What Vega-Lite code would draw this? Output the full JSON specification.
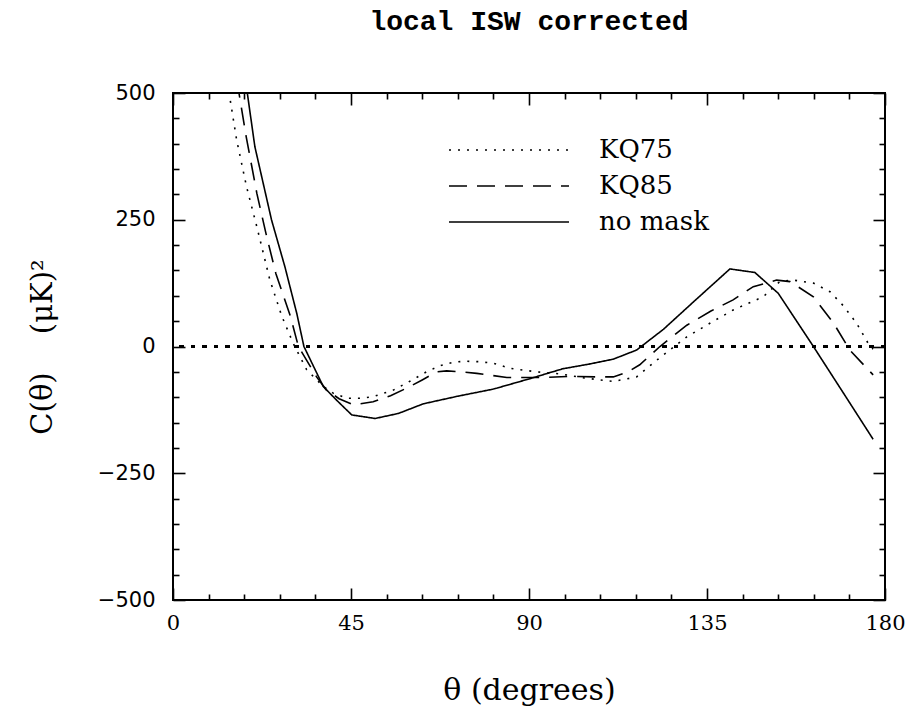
{
  "$schema": "https://vega.github.io/schema/vega-lite/v6.json",
  "autosize": "none",
  "width": 712,
  "height": 507,
  "padding": {"left": 173, "top": 93, "right": 24, "bottom": 108},
  "background": "white",
  "title": {
    "text": "local ISW corrected",
    "font": "Liberation Mono",
    "fontSize": 28,
    "fontWeight": "bold",
    "color": "black",
    "anchor": "middle",
    "baseline": "alphabetic",
    "offset": 24
  },
  "config": {
    "view": {"stroke": "black", "strokeWidth": 2},
    "axis": {
      "domain": false,
      "grid": false,
      "tickColor": "black",
      "tickWidth": 1.6,
      "labelColor": "black",
      "titleColor": "black"
    }
  },
  "data": {
    "values": [
      {"theta": 10, "c": 820, "mask": "KQ75"},
      {"theta": 12, "c": 650, "mask": "KQ75"},
      {"theta": 14.2, "c": 499, "mask": "KQ75"},
      {"theta": 16.1, "c": 407, "mask": "KQ75"},
      {"theta": 18.6, "c": 315, "mask": "KQ75"},
      {"theta": 21.2, "c": 236, "mask": "KQ75"},
      {"theta": 24.5, "c": 131, "mask": "KQ75"},
      {"theta": 27.5, "c": 60, "mask": "KQ75"},
      {"theta": 30.4, "c": 6, "mask": "KQ75"},
      {"theta": 33.8, "c": -46, "mask": "KQ75"},
      {"theta": 38, "c": -79, "mask": "KQ75"},
      {"theta": 40.5, "c": -92, "mask": "KQ75"},
      {"theta": 43.9, "c": -102, "mask": "KQ75"},
      {"theta": 47.3, "c": -102, "mask": "KQ75"},
      {"theta": 50.6, "c": -99, "mask": "KQ75"},
      {"theta": 55.7, "c": -86, "mask": "KQ75"},
      {"theta": 60, "c": -68, "mask": "KQ75"},
      {"theta": 64.1, "c": -50, "mask": "KQ75"},
      {"theta": 67.5, "c": -38, "mask": "KQ75"},
      {"theta": 70.9, "c": -31, "mask": "KQ75"},
      {"theta": 73.8, "c": -29, "mask": "KQ75"},
      {"theta": 77.5, "c": -30, "mask": "KQ75"},
      {"theta": 81, "c": -33, "mask": "KQ75"},
      {"theta": 85.2, "c": -43, "mask": "KQ75"},
      {"theta": 91.9, "c": -50, "mask": "KQ75"},
      {"theta": 97.8, "c": -54, "mask": "KQ75"},
      {"theta": 104, "c": -62, "mask": "KQ75"},
      {"theta": 111.3, "c": -69, "mask": "KQ75"},
      {"theta": 117.2, "c": -60, "mask": "KQ75"},
      {"theta": 122.3, "c": -27, "mask": "KQ75"},
      {"theta": 129.9, "c": 19, "mask": "KQ75"},
      {"theta": 136, "c": 47, "mask": "KQ75"},
      {"theta": 141.6, "c": 72, "mask": "KQ75"},
      {"theta": 149.2, "c": 98, "mask": "KQ75"},
      {"theta": 153.4, "c": 128, "mask": "KQ75"},
      {"theta": 156.8, "c": 131, "mask": "KQ75"},
      {"theta": 161.9, "c": 125, "mask": "KQ75"},
      {"theta": 166.1, "c": 108, "mask": "KQ75"},
      {"theta": 169.5, "c": 80, "mask": "KQ75"},
      {"theta": 172.8, "c": 46, "mask": "KQ75"},
      {"theta": 176.2, "c": 0, "mask": "KQ75"},
      {"theta": 177, "c": -5, "mask": "KQ75"},

      {"theta": 12, "c": 800, "mask": "KQ85"},
      {"theta": 14.5, "c": 640, "mask": "KQ85"},
      {"theta": 16.7, "c": 499, "mask": "KQ85"},
      {"theta": 18.5, "c": 414, "mask": "KQ85"},
      {"theta": 21.2, "c": 302, "mask": "KQ85"},
      {"theta": 23.5, "c": 223, "mask": "KQ85"},
      {"theta": 26, "c": 144, "mask": "KQ85"},
      {"theta": 29.7, "c": 59, "mask": "KQ85"},
      {"theta": 31.7, "c": 0, "mask": "KQ85"},
      {"theta": 36.3, "c": -60, "mask": "KQ85"},
      {"theta": 38.8, "c": -86, "mask": "KQ85"},
      {"theta": 42, "c": -103, "mask": "KQ85"},
      {"theta": 45.6, "c": -115, "mask": "KQ85"},
      {"theta": 50.6, "c": -109, "mask": "KQ85"},
      {"theta": 55, "c": -97, "mask": "KQ85"},
      {"theta": 59.1, "c": -82, "mask": "KQ85"},
      {"theta": 63, "c": -66, "mask": "KQ85"},
      {"theta": 66.7, "c": -50, "mask": "KQ85"},
      {"theta": 69.2, "c": -48, "mask": "KQ85"},
      {"theta": 73, "c": -50, "mask": "KQ85"},
      {"theta": 76.8, "c": -53, "mask": "KQ85"},
      {"theta": 84.4, "c": -61, "mask": "KQ85"},
      {"theta": 93.6, "c": -61, "mask": "KQ85"},
      {"theta": 100, "c": -59, "mask": "KQ85"},
      {"theta": 107.1, "c": -60, "mask": "KQ85"},
      {"theta": 111.3, "c": -60, "mask": "KQ85"},
      {"theta": 115, "c": -50, "mask": "KQ85"},
      {"theta": 118, "c": -36, "mask": "KQ85"},
      {"theta": 123.1, "c": 0, "mask": "KQ85"},
      {"theta": 129.9, "c": 42, "mask": "KQ85"},
      {"theta": 136, "c": 70, "mask": "KQ85"},
      {"theta": 141.6, "c": 92, "mask": "KQ85"},
      {"theta": 146.7, "c": 118, "mask": "KQ85"},
      {"theta": 152.6, "c": 131, "mask": "KQ85"},
      {"theta": 156, "c": 128, "mask": "KQ85"},
      {"theta": 161.9, "c": 98, "mask": "KQ85"},
      {"theta": 167, "c": 46, "mask": "KQ85"},
      {"theta": 171.1, "c": -7, "mask": "KQ85"},
      {"theta": 177, "c": -56, "mask": "KQ85"},

      {"theta": 12, "c": 860, "mask": "no mask"},
      {"theta": 15, "c": 680, "mask": "no mask"},
      {"theta": 18.8, "c": 499, "mask": "no mask"},
      {"theta": 20.7, "c": 394, "mask": "no mask"},
      {"theta": 24.9, "c": 250, "mask": "no mask"},
      {"theta": 28.3, "c": 157, "mask": "no mask"},
      {"theta": 31.3, "c": 65, "mask": "no mask"},
      {"theta": 33.1, "c": 0, "mask": "no mask"},
      {"theta": 38, "c": -79, "mask": "no mask"},
      {"theta": 41.5, "c": -107, "mask": "no mask"},
      {"theta": 45.2, "c": -135, "mask": "no mask"},
      {"theta": 51.1, "c": -142, "mask": "no mask"},
      {"theta": 57, "c": -132, "mask": "no mask"},
      {"theta": 63.3, "c": -113, "mask": "no mask"},
      {"theta": 72, "c": -98, "mask": "no mask"},
      {"theta": 81, "c": -84, "mask": "no mask"},
      {"theta": 90, "c": -64, "mask": "no mask"},
      {"theta": 98.5, "c": -44, "mask": "no mask"},
      {"theta": 105, "c": -35, "mask": "no mask"},
      {"theta": 111.3, "c": -25, "mask": "no mask"},
      {"theta": 117.2, "c": -7, "mask": "no mask"},
      {"theta": 124, "c": 34, "mask": "no mask"},
      {"theta": 132, "c": 91, "mask": "no mask"},
      {"theta": 140.8, "c": 153, "mask": "no mask"},
      {"theta": 147.1, "c": 146, "mask": "no mask"},
      {"theta": 153, "c": 105, "mask": "no mask"},
      {"theta": 157.5, "c": 52, "mask": "no mask"},
      {"theta": 161.9, "c": 0, "mask": "no mask"},
      {"theta": 170, "c": -98, "mask": "no mask"},
      {"theta": 177, "c": -183, "mask": "no mask"}
    ]
  },
  "resolve": {"axis": {"x": "independent", "y": "independent"}},
  "layer": [
    {
      "mark": {"type": "line", "clip": true, "color": "black", "strokeWidth": 1.6},
      "encoding": {
        "x": {
          "field": "theta",
          "type": "quantitative",
          "scale": {"domain": [0, 180], "nice": false, "zero": false},
          "axis": {
            "orient": "bottom",
            "values": [0, 45, 90, 135, 180],
            "tickSize": -12,
            "labelFont": "DejaVu Serif",
            "labelFontSize": 21,
            "labelPadding": 24,
            "labelFlush": false,
            "title": "θ (degrees)",
            "titleFont": "DejaVu Serif",
            "titleFontSize": 30,
            "titleFontWeight": "normal",
            "titleX": 356,
            "titleY": 90,
            "titleBaseline": "middle",
            "titleAlign": "center"
          }
        },
        "y": {
          "field": "c",
          "type": "quantitative",
          "scale": {"domain": [-500, 500], "nice": false, "zero": false},
          "axis": {
            "orient": "left",
            "values": [-500, -250, 0, 250, 500],
            "tickSize": -12,
            "labelFont": "DejaVu Sans",
            "labelFontSize": 21,
            "labelPadding": 30,
            "labelFlush": false,
            "title": "C(θ)\u2003 (μK)²",
            "titleFont": "DejaVu Serif",
            "titleFontSize": 29,
            "titleFontWeight": "normal",
            "titleAngle": -90,
            "titleX": -131,
            "titleY": 253.5,
            "titleBaseline": "middle",
            "titleAlign": "center"
          }
        },
        "strokeDash": {
          "field": "mask",
          "type": "nominal",
          "scale": {
            "domain": ["KQ75", "KQ85", "no mask"],
            "range": [[2, 7], [18, 10], [1, 0]]
          },
          "legend": {
            "title": null,
            "orient": "none",
            "legendX": 315,
            "legendY": 36,
            "symbolType": "M-3,0H3",
            "symbolSize": 1600,
            "symbolStrokeWidth": 1.6,
            "symbolStrokeColor": "black",
            "labelFont": "DejaVu Serif",
            "labelFontSize": 26,
            "labelColor": "black",
            "labelOffset": 69,
            "rowPadding": 2
          }
        }
      }
    },
    {
      "mark": {"type": "point", "opacity": 0, "clip": true},
      "encoding": {
        "x": {
          "field": "theta",
          "type": "quantitative",
          "axis": {
            "orient": "bottom",
            "values": [9, 18, 27, 36, 54, 63, 72, 81, 99, 108, 117, 126, 144, 153, 162, 171],
            "tickSize": -6,
            "labels": false,
            "title": null
          }
        },
        "y": {
          "field": "c",
          "type": "quantitative",
          "axis": {
            "orient": "left",
            "values": [-450, -400, -350, -300, -200, -150, -100, -50, 50, 100, 150, 200, 300, 350, 400, 450],
            "tickSize": -6,
            "labels": false,
            "title": null
          }
        }
      }
    },
    {
      "mark": {"type": "point", "opacity": 0, "clip": true},
      "encoding": {
        "x": {
          "field": "theta",
          "type": "quantitative",
          "axis": {
            "orient": "top",
            "values": [0, 45, 90, 135, 180],
            "tickSize": -12,
            "labels": false,
            "title": null
          }
        },
        "y": {
          "field": "c",
          "type": "quantitative",
          "axis": {
            "orient": "right",
            "values": [-500, -250, 0, 250, 500],
            "tickSize": -12,
            "labels": false,
            "title": null
          }
        }
      }
    },
    {
      "mark": {"type": "point", "opacity": 0, "clip": true},
      "encoding": {
        "x": {
          "field": "theta",
          "type": "quantitative",
          "axis": {
            "orient": "top",
            "values": [9, 18, 27, 36, 54, 63, 72, 81, 99, 108, 117, 126, 144, 153, 162, 171],
            "tickSize": -6,
            "labels": false,
            "title": null
          }
        },
        "y": {
          "field": "c",
          "type": "quantitative",
          "axis": {
            "orient": "right",
            "values": [-450, -400, -350, -300, -200, -150, -100, -50, 50, 100, 150, 200, 300, 350, 400, 450],
            "tickSize": -6,
            "labels": false,
            "title": null
          }
        }
      }
    },
    {
      "mark": {"type": "rule", "color": "black", "strokeWidth": 1.5, "strokeDash": [4, 7.5]},
      "encoding": {
        "y": {"datum": 0, "type": "quantitative", "axis": null}
      }
    }
  ]
}
